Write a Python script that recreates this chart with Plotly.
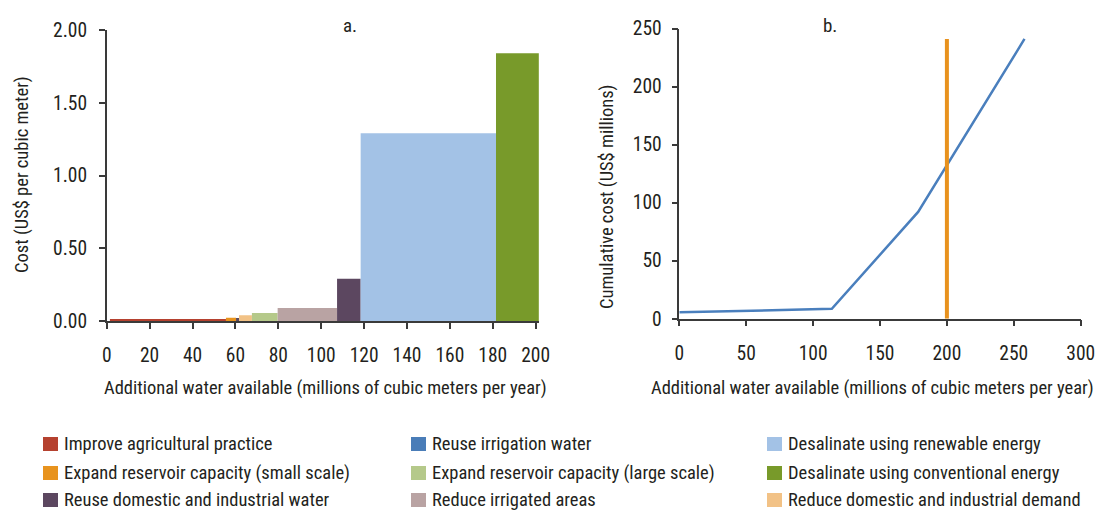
import plotly.graph_objects as go

# ---------------- data ----------------
# Panel a: cost curve (bars with variable widths)
bar_options = [
    "Improve agricultural practice",
    "Expand reservoir capacity (small scale)",
    "Reuse irrigation water",
    "Reduce domestic and industrial demand",
    "Expand reservoir capacity (large scale)",
    "Reduce irrigated areas",
    "Reuse domestic and industrial water",
    "Desalinate using renewable energy",
    "Desalinate using conventional energy",
]
bar_start = [1.5, 55.6, 60.3, 61.7, 67.7, 79.7, 107.4, 118.4, 181.5]
bar_end = [55.6, 60.3, 61.7, 67.7, 79.7, 107.4, 118.4, 181.5, 201.5]
bar_cost = [0.01, 0.022, 0.02, 0.04, 0.055, 0.09, 0.29, 1.29, 1.84]
bar_colors = ["#b5412f", "#e8931e", "#5b4a5e", "#f2c286", "#b5c98a",
              "#b9a3a3", "#5c4760", "#a3c2e6", "#789a2a"]

# Panel b: cumulative cost
cum_water = [0, 114, 178.5, 258]
cum_cost = [5.5, 8.5, 92, 241]
target_water = [200, 200]
target_cost = [0, 241]

# Legend (row-major, 3 columns)
legend_names = [
    "Improve agricultural practice", "Reuse irrigation water", "Desalinate using renewable energy",
    "Expand reservoir capacity (small scale)", "Expand reservoir capacity (large scale)", "Desalinate using conventional energy",
    "Reuse domestic and industrial water", "Reduce irrigated areas", "Reduce domestic and industrial demand",
]
legend_colors = [
    "#b5412f", "#4a7db8", "#a3c2e6",
    "#e8931e", "#b5c98a", "#789a2a",
    "#5c4760", "#b9a3a3", "#f2c286",
]

xticks_a = [0, 20, 40, 60, 80, 100, 120, 140, 160, 180, 200]
yticks_a = [0, 0.5, 1.0, 1.5, 2.0]
xticks_b = [0, 50, 100, 150, 200, 250, 300]
yticks_b = [0, 50, 100, 150, 200, 250]

# ---------------- layout helpers ----------------
W, H = 1097, 513
FONT = "Roboto Condensed, Liberation Sans Narrow, Arial Narrow, sans-serif"
TXT = "#231f20"
AX = "#3a3a3a"
FS = 19


def px(x):
    return x / W


def py(y):
    return 1 - y / H


centers = [(s + e) / 2 for s, e in zip(bar_start, bar_end)]
widths = [e - s for s, e in zip(bar_start, bar_end)]

fig = go.Figure()
fig.add_trace(go.Bar(
    x=centers, y=bar_cost, width=widths, marker_color=bar_colors,
    marker_line_width=0, hovertext=bar_options, showlegend=False,
    xaxis="x", yaxis="y",
))
fig.add_trace(go.Scatter(
    x=cum_water, y=cum_cost, mode="lines", line=dict(color="#4a7fbd", width=2.5),
    showlegend=False, xaxis="x2", yaxis="y2",
))
fig.add_trace(go.Scatter(
    x=target_water, y=target_cost, mode="lines", line=dict(color="#e8921e", width=4),
    showlegend=False, xaxis="x2", yaxis="y2",
))

axis_common = dict(
    showline=True, linecolor=AX, linewidth=1.5, ticks="outside", ticklen=6,
    tickwidth=1.5, tickcolor=AX, showgrid=False, zeroline=False, automargin=False,
    tickfont=dict(family=FONT, size=FS + 0.5, color=TXT), fixedrange=True,
)

fig.update_layout(
    template="none",
    width=W, height=H, margin=dict(l=0, r=0, t=0, b=0, autoexpand=False),
    paper_bgcolor="white", plot_bgcolor="white", showlegend=False,
    xaxis=dict(domain=[px(106.7), px(538.9)], range=[0, 201.5], tickvals=xticks_a,
               anchor="y", ticklabelstandoff=10, **axis_common),
    yaxis=dict(domain=[py(321), py(30)], range=[0, 2.0], tickvals=yticks_a,
               tickformat=".2f", anchor="x", ticklabelstandoff=8, **axis_common),
    xaxis2=dict(domain=[px(679.3), px(1080.7)], range=[0, 300], tickvals=xticks_b,
                anchor="y2", ticklabelstandoff=10, **axis_common),
    yaxis2=dict(domain=[py(318.7), py(28.5)], range=[0, 250], tickvals=yticks_b,
                anchor="x2", ticklabelstandoff=6, **axis_common),
)

annotations = []


def add_text(x, y, text, xanchor="center", angle=0, size=FS):
    annotations.append(dict(
        x=px(x), y=py(y), xref="paper", yref="paper", text=text, showarrow=False,
        xanchor=xanchor, yanchor="middle", textangle=angle,
        font=dict(family=FONT, size=size, color=TXT),
    ))


add_text(350, 25, "a.")
add_text(830, 25, "b.")
add_text(325, 388, "Additional water available (millions of cubic meters per year)", size=18.5)
add_text(872, 388, "Additional water available (millions of cubic meters per year)", size=18.5)
add_text(22, 175, "Cost (US$ per cubic meter)", angle=-90, size=18.5)
add_text(607, 197, "Cumulative cost (US$ millions)", angle=-90, size=18.5)

shapes = []
col_x = [43, 411, 767]
row_y = [444, 473, 500]
for i, (name, color) in enumerate(zip(legend_names, legend_colors)):
    cx = col_x[i % 3]
    cy = row_y[i // 3]
    shapes.append(dict(
        type="rect", xref="paper", yref="paper",
        x0=px(cx), x1=px(cx + 15), y0=py(cy + 7), y1=py(cy - 7),
        fillcolor=color, line=dict(width=0),
    ))
    add_text(cx + 19, cy, name, xanchor="left", size=18.5)

fig.update_layout(annotations=annotations, shapes=shapes)

fig.write_html(
    "out.html",
    config={"displayModeBar": False},
    post_script="document.body.style.margin='0';document.body.style.padding='0';",
)
